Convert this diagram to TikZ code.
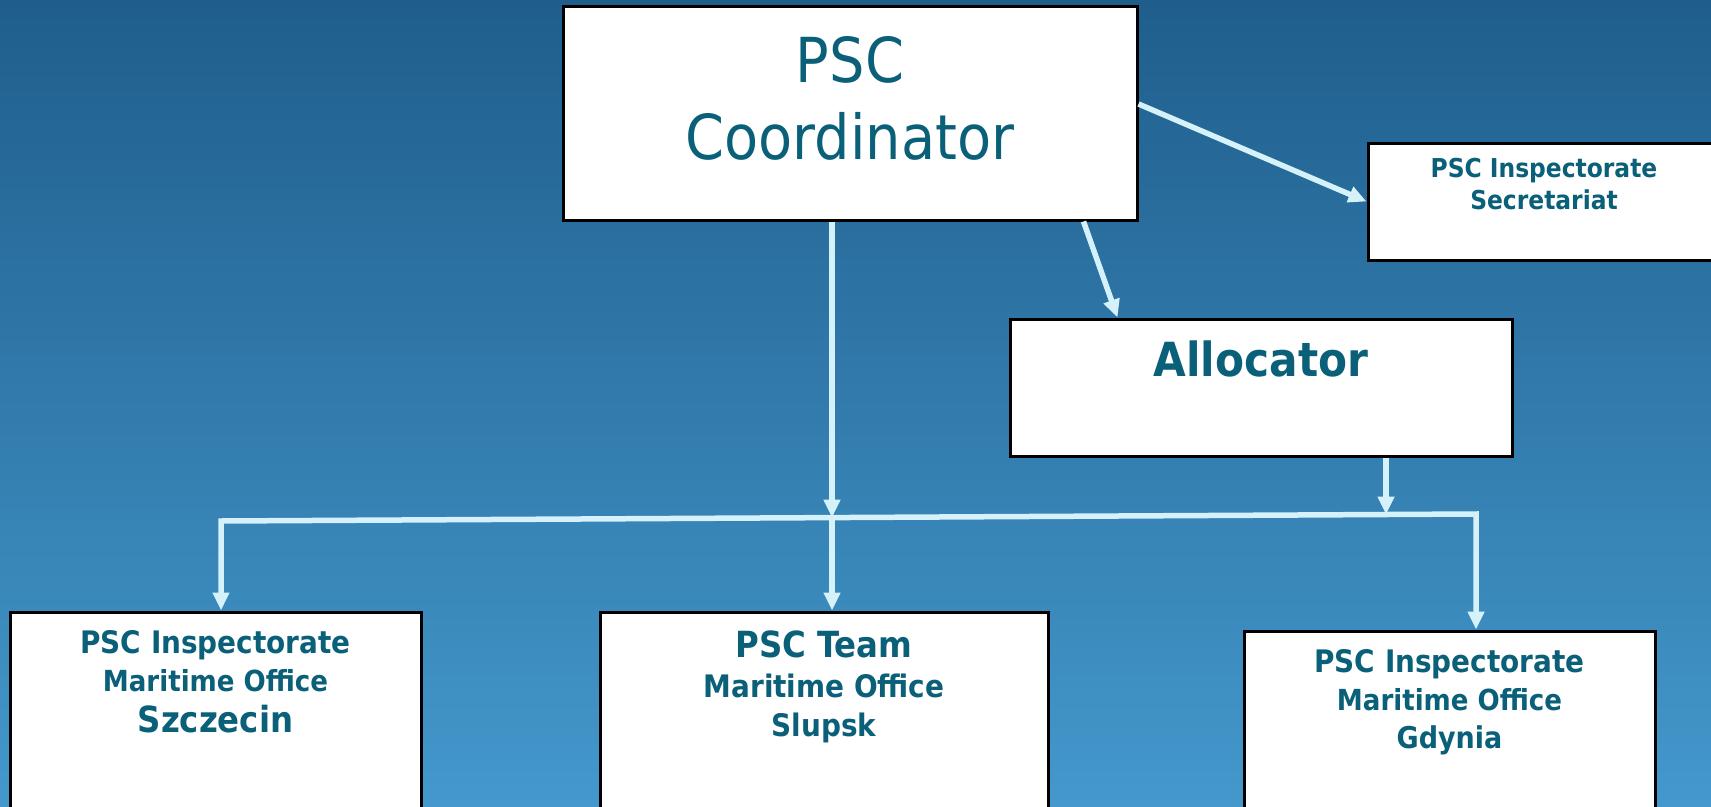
\documentclass[tikz,border=0pt]{standalone}
\usepackage{fontspec}
\setmainfont{DejaVu Sans Condensed}[BoldFont={DejaVu Sans Condensed Bold}]
\usetikzlibrary{arrows.meta}
\definecolor{bgtop}{RGB}{31,94,140}
\definecolor{bgbottom}{RGB}{68,152,204}
\definecolor{textteal}{RGB}{11,96,121}
\definecolor{linkblue}{RGB}{213,242,250}
\tikzstyle{box} = [draw=black, fill=white, line width=3pt, inner sep=0pt, text=textteal]
\tikzstyle{link} = [draw=linkblue, line width=5.5pt, >={Triangle[length=18pt,width=16pt]}, ->]
\newcommand{\boxlines}[4]{\begin{minipage}[c][#2][t]{#1}\centering\vspace*{#3}#4\end{minipage}}
\newcommand{\boxline}[3]{\fontsize{#1}{#2}\selectfont #3\par}

\begin{document}
\begin{tikzpicture}[x=1pt, y=-1pt]
    \useasboundingbox (0,0) rectangle (1711,806);
    \clip (0,0) rectangle (1711,806);
    \shade [top color=bgtop, bottom color=bgbottom] (0,0) rectangle (1711,806);

    \node [box] (coord) at (850,113) {\boxlines{574pt}{214pt}{30pt}{%
        \boxline{62}{77}{PSC}\boxline{62}{77}{Coordinator}}};
    \node [box] (secr) at (1544,201.5) {\boxlines{352pt}{117pt}{15.5pt}{\bfseries
        \boxline{26}{32}{PSC Inspectorate}\boxline{26}{32}{Secretariat}}};
    \node [box] (alloc) at (1261,387.5) {\boxlines{502pt}{137pt}{22pt}{\bfseries
        \boxline{47}{56}{Allocator}}};
    \node [box] (szc) at (215.5,721) {\boxlines{411pt}{218pt}{18pt}{\bfseries
        \boxline{31}{38}{PSC Inspectorate}\boxline{29}{38}{Maritime Office}\boxline{36}{41}{Szczecin}}};
    \node [box] (slp) at (824,721) {\boxlines{448pt}{218pt}{19pt}{\bfseries
        \boxline{36}{40}{PSC Team}\boxline{31}{40}{Maritime Office}\boxline{31}{39}{Slupsk}}};
    \node [box] (gdy) at (1449.5,730.5) {\boxlines{411pt}{199pt}{18pt}{\bfseries
        \boxline{31}{38}{PSC Inspectorate}\boxline{29}{38}{Maritime Office}\boxline{30}{38}{Gdynia}}};

    \coordinate (busL) at (221,521);
    \coordinate (busM) at (832,517.6);
    \coordinate (busA) at (1386,514.5);
    \coordinate (busR) at (1476,514);

    \draw [link] ([yshift=9pt]coord.east) -- (secr.west);
    \draw [link] ([xshift=-55pt]coord.south east) -- ([xshift=109pt]alloc.north west);
    \draw [link] (coord.south -| busM) -- (busM);
    \draw [link] (alloc.south -| busA) -- (busA);
    \draw [link, <->] (szc.north -| busL) -- (busL) -- (busR) -- (gdy.north -| busR);
    \draw [link] (busM) -- (slp.north -| busM);
\end{tikzpicture}
\end{document}
